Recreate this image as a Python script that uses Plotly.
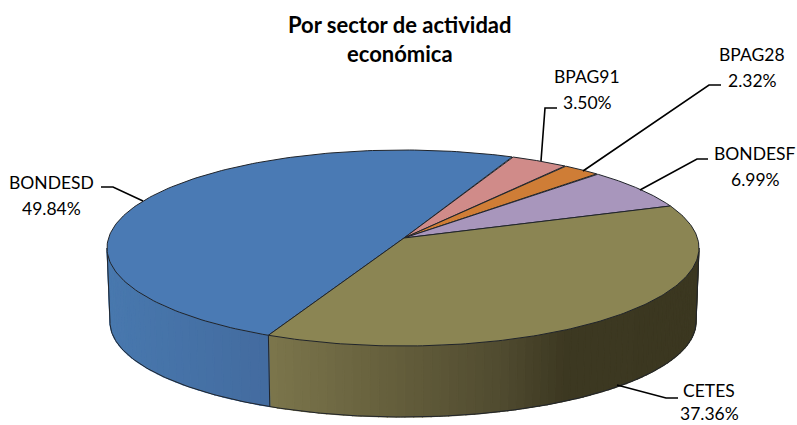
import numpy as np
import plotly.graph_objects as go

categories = ["BONDESD", "BPAG91", "BPAG28", "BONDESF", "CETES"]
values = [49.84, 3.50, 2.32, 6.99, 37.36]
top_colors = ["#4a7ab4", "#d08b89", "#cf7d36", "#a896bc", "#8b8553"]
title_lines = ["Por sector de actividad", "económica"]

# projection of the tilted disc (canvas pixels)
CX, CY, RX, RY = 403.0, 248.0, 296.0, 98.0
BCX, BCY, BRX, BRY = 403.0, 322.0, 293.0, 95.0
A = (248.0 - 238.0) / 98.0
START = 204.5  # clockwise degrees from the back of the disc


def unit(t):
    t = np.radians(np.asarray(t, dtype=float))
    u, v = np.sin(t), np.cos(t)
    d = 1 + A * v
    return u * np.sqrt(1 - A * A) / d, (v + A) / d


def top(t):
    u, v = unit(t)
    return CX + RX * u, CY - RY * v


def bottom(t):
    u, v = unit(t)
    return BCX + BRX * u, BCY - BRY * v


def lerp_color(stops, x):
    xs = [s[0] for s in stops]
    c = [np.interp(x, xs, [s[1][i] for s in stops]) for i in range(3)]
    return "rgb(%d,%d,%d)" % tuple(int(round(k)) for k in c)


side_blue = [(107, (0x48, 0x78, 0xae)), (271, (0x43, 0x6b, 0x9f))]
side_olive = [(271, (0x7b, 0x75, 0x4b)), (400, (0x63, 0x5d, 0x3b)),
              (500, (0x50, 0x4b, 0x30)), (565, (0x3c, 0x38, 0x21)), (699, (0x3b, 0x37, 0x20))]

EDGE = "#20242a"
fig = go.Figure()

angles = START + np.concatenate([[0], np.cumsum(values)]) * 360.0 / sum(values)
arcs = {c: (angles[i], angles[i + 1]) for i, c in enumerate(categories)}

right_edge = np.degrees(np.arccos(-A))
left_edge = 360 - right_edge


def add_side(t0, t1, stops, n):
    edges = np.linspace(t0, t1, n + 1)
    for a, b in zip(edges[:-1], edges[1:]):
        ts = np.linspace(a, b, 4)
        xt, yt = top(ts)
        xb, yb = bottom(ts)
        col = lerp_color(stops, float(np.mean(xt)))
        fig.add_trace(go.Scatter(x=np.r_[xt, xb[::-1], xt[0]], y=np.r_[yt, yb[::-1], yt[0]],
                                 mode="lines", fill="toself", fillcolor=col,
                                 line=dict(color=col, width=1.2), hoverinfo="skip"))


def add_outline(xs, ys, width=1.0, color=EDGE):
    fig.add_trace(go.Scatter(x=xs, y=ys, mode="lines", line=dict(color=color, width=width),
                             hoverinfo="skip"))


boundary = arcs["BONDESD"][0]
add_side(right_edge, boundary, side_olive, 70)
add_side(boundary, left_edge, side_blue, 30)

# side outlines
ts = np.linspace(right_edge, left_edge, 200)
xb, yb = bottom(ts)
add_outline(xb, yb, 1.0)
for t in (right_edge, boundary, left_edge):
    xt, yt = top(t)
    xq, yq = bottom(t)
    add_outline([float(xt), float(xq)], [float(yt), float(yq)], 1.0)

# top face
apex_x, apex_y = CX + 1, CY - RY * A
for cat, col in zip(categories, top_colors):
    a, b = arcs[cat]
    ts = np.linspace(a, b, 160)
    xs, ys = top(ts)
    fig.add_trace(go.Scatter(x=np.r_[apex_x, xs, apex_x], y=np.r_[apex_y, ys, apex_y],
                             mode="lines", fill="toself", fillcolor=col,
                             line=dict(color=EDGE, width=1.0), name=cat, hoverinfo="skip"))

# leader lines and labels
leaders = {
    "BONDESD": ([101, 113, 143], [187, 187, 201]),
    "BPAG91": ([557, 545, 541], [108, 108, 161]),
    "BPAG28": ([721, 709, 583], [85, 85, 171]),
    "BONDESF": ([708, 697, 640], [159, 159, 190]),
    "CETES": ([678, 666, 617], [398, 398, 385]),
}
label_pos = {
    "BONDESD": (51.5, 182, 208),
    "BPAG91": (587, 76, 102),
    "BPAG28": (752, 54, 80),
    "BONDESF": (755, 153, 179),
    "CETES": (709, 390, 413.5),
}
for cat, val in zip(categories, values):
    lx, ly = leaders[cat]
    add_outline(lx, ly, 1.6, "#000000")
    x, y1, y2 = label_pos[cat]
    for y, txt in ((y1, cat), (y2, f"{val:.2f}%")):
        fig.add_annotation(x=x, y=y, xref="x", yref="y", text=txt, showarrow=False,
                           font=dict(family="Lato", size=17.5, color="#000000"))

for y, txt in zip((24, 53), title_lines):
    fig.add_annotation(x=400, y=y, xref="x", yref="y", text=f"<b>{txt}</b>", showarrow=False,
                       font=dict(family="Lato", size=22, color="#000000"))

fig.update_layout(width=797, height=425, margin=dict(l=0, r=0, t=0, b=0), showlegend=False,
                  paper_bgcolor="white", plot_bgcolor="white",
                  xaxis=dict(range=[0, 797], visible=False, fixedrange=True),
                  yaxis=dict(range=[425, 0], visible=False, fixedrange=True))
fig.write_html("out.html", config={"displayModeBar": False},
               post_script="document.body.style.margin='0';document.documentElement.style.overflow='hidden';")
